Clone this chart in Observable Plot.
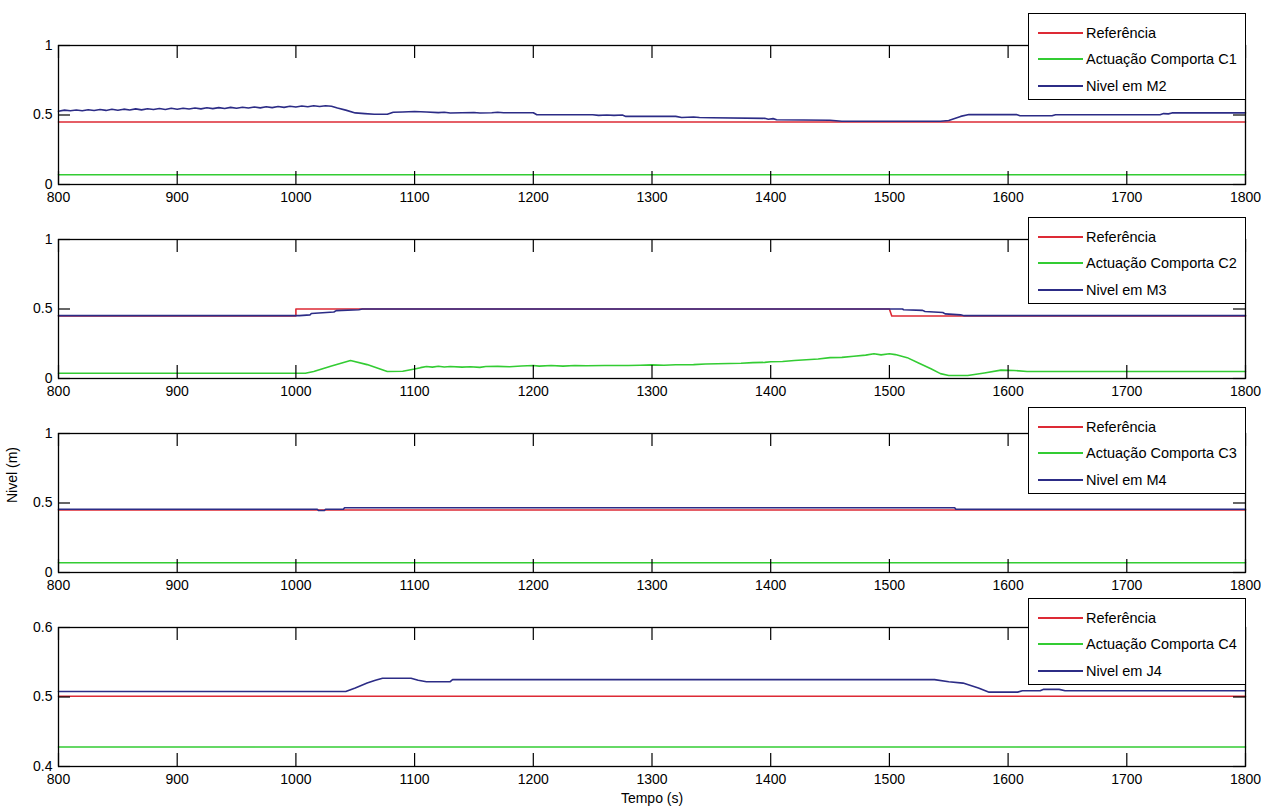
<!DOCTYPE html>
<html>
<head>
<meta charset="utf-8">
<script src="https://cdn.jsdelivr.net/npm/d3@7"></script>
<script src="https://cdn.jsdelivr.net/npm/@observablehq/plot@0.6"></script>
<style>
  body { margin: 0; background: #fff; width: 1261px; height: 812px; position: relative; overflow: hidden;
         font-family: "Liberation Sans", Arial, sans-serif; }
  .legend { position: absolute; left: 1028px; width: 216px; height: 85px; border: 1px solid #000; background: #fff;
            z-index: 5; font-size: 14.5px; color: #000; }
  .legend .row { position: absolute; left: 0; width: 216px; height: 20px; }
  .legend .sw { position: absolute; left: 9px; width: 45px; height: 2px; top: 9px; }
  .legend .tx { position: absolute; left: 57px; top: 0; line-height: 20px; white-space: nowrap; }
</style>
</head>
<body>
<script>
// ---------- shared axes ----------
const xTicks = [800, 900, 1000, 1100, 1200, 1300, 1400, 1500, 1600, 1700, 1800];
const yTicksLevel = [0, 0.5, 1];
const yTicksJ4 = [0.4, 0.5, 0.6];
const xLabel = "Tempo (s)";
const yLabel = "Nivel (m)";
const seriesColors = ["#dd2a35", "#33cc33", "#2c2c86"];

// ---------- panel 1 : C1 / M2 ----------
const legend1 = ["Referência", "Actuação Comporta C1", "Nivel em  M2"];
const ref1T = [800, 1800];
const ref1V = [0.45, 0.45];
const act1T = [800, 1800];
const act1V = [0.07, 0.07];
const niv1T = [800, 805, 810, 815, 820, 825, 830, 835, 840, 845, 850, 855, 860, 865, 870, 875, 880, 885, 890, 895,
               900, 905, 910, 915, 920, 925, 930, 935, 940, 945, 950, 955, 960, 965, 970, 975, 980, 985, 990, 995,
               1000, 1005, 1010, 1015, 1020, 1025, 1030, 1035, 1042, 1050, 1058, 1066, 1077, 1082, 1090, 1100,
               1110, 1120, 1125, 1130, 1140, 1150, 1155, 1165, 1170, 1175, 1200, 1203, 1250, 1255, 1262, 1268,
               1275, 1278, 1320, 1325, 1335, 1340, 1350, 1395, 1398, 1402, 1405, 1450, 1460, 1543, 1550, 1560,
               1567, 1607, 1610, 1637, 1640, 1728, 1731, 1735, 1738, 1800];
const niv1V = [0.527, 0.535, 0.530, 0.536, 0.531, 0.538, 0.532, 0.539, 0.533, 0.541, 0.534, 0.542, 0.536, 0.544, 0.537, 0.545, 0.539, 0.547, 0.540, 0.548,
               0.541, 0.549, 0.543, 0.550, 0.544, 0.552, 0.546, 0.553, 0.547, 0.555, 0.549, 0.556, 0.550, 0.558, 0.551, 0.559, 0.553, 0.561, 0.555, 0.563,
               0.557, 0.565, 0.559, 0.566, 0.561, 0.567, 0.563, 0.550, 0.535, 0.515, 0.510, 0.505, 0.505, 0.520, 0.522, 0.525,
               0.522, 0.517, 0.520, 0.514, 0.516, 0.518, 0.514, 0.516, 0.520, 0.516, 0.516, 0.502, 0.502, 0.497, 0.500, 0.497,
               0.500, 0.490, 0.490, 0.482, 0.486, 0.482, 0.480, 0.476, 0.470, 0.474, 0.466, 0.462, 0.455, 0.455, 0.460, 0.490,
               0.503, 0.503, 0.495, 0.495, 0.502, 0.502, 0.510, 0.508, 0.515, 0.515];

// ---------- panel 2 : C2 / M3 ----------
const legend2 = ["Referência", "Actuação Comporta C2", "Nivel em M3"];
const ref2T = [800, 1000, 1000, 1500, 1502, 1800];
const ref2V = [0.45, 0.45, 0.50, 0.50, 0.45, 0.45];
const act2T = [800, 1008, 1015, 1030, 1046, 1060, 1077, 1090, 1100, 1105, 1110, 1115, 1120, 1125, 1130, 1140, 1147, 1155,
               1160, 1170, 1180, 1190, 1200, 1205, 1215, 1225, 1235, 1245, 1260, 1280, 1290, 1300, 1310, 1320, 1335,
               1345, 1355, 1365, 1375, 1385, 1395, 1400, 1410, 1420, 1430, 1440, 1450, 1460, 1470, 1480, 1487, 1493,
               1500, 1505, 1515, 1525, 1535, 1543, 1550, 1566, 1580, 1594, 1605, 1616, 1800];
const act2V = [0.038, 0.038, 0.050, 0.090, 0.130, 0.100, 0.050, 0.052, 0.068, 0.078, 0.086, 0.082, 0.088, 0.083, 0.086, 0.082, 0.084, 0.080,
               0.086, 0.087, 0.084, 0.090, 0.093, 0.089, 0.093, 0.089, 0.094, 0.092, 0.093, 0.093, 0.095, 0.098, 0.095, 0.099, 0.100,
               0.104, 0.106, 0.108, 0.110, 0.114, 0.116, 0.120, 0.122, 0.130, 0.135, 0.140, 0.150, 0.152, 0.160, 0.168, 0.178, 0.170,
               0.178, 0.172, 0.150, 0.110, 0.070, 0.035, 0.022, 0.022, 0.040, 0.060, 0.058, 0.050, 0.050];
const niv2T = [800, 1003, 1012, 1013, 1032, 1034, 1053, 1056, 1511, 1512, 1528, 1530, 1545, 1547, 1560, 1563, 1800];
const niv2V = [0.452, 0.452, 0.458, 0.468, 0.478, 0.488, 0.495, 0.500, 0.500, 0.495, 0.490, 0.482, 0.475, 0.465, 0.458, 0.452, 0.452];

// ---------- panel 3 : C3 / M4 ----------
const legend3 = ["Referência", "Actuação Comporta C3", "Nivel em M4"];
const ref3T = [800, 1800];
const ref3V = [0.45, 0.45];
const act3T = [800, 1800];
const act3V = [0.07, 0.07];
const niv3T = [800, 1018, 1019, 1024, 1025, 1040, 1041, 1555, 1556, 1800];
const niv3V = [0.455, 0.455, 0.446, 0.446, 0.455, 0.455, 0.466, 0.466, 0.455, 0.455];

// ---------- panel 4 : C4 / J4 ----------
const legend4 = ["Referência", "Actuação Comporta C4", "Nivel em J4"];
const ref4T = [800, 1800];
const ref4V = [0.501, 0.501];
const act4T = [800, 1800];
const act4V = [0.428, 0.428];
const niv4T = [800, 1042, 1050, 1060, 1067, 1073, 1097, 1103, 1110, 1130, 1132, 1538, 1550, 1562, 1575, 1584, 1608,
               1612, 1627, 1630, 1643, 1648, 1800];
const niv4V = [0.508, 0.508, 0.513, 0.520, 0.524, 0.527, 0.527, 0.524, 0.522, 0.522, 0.525, 0.525, 0.522, 0.520, 0.513, 0.507, 0.507,
               0.509, 0.509, 0.511, 0.511, 0.509, 0.509];

// ---------- layout ----------
const FONT = '"Liberation Sans", Arial, sans-serif';
const W = 1261, ML = 58, MR = 16, PH = 139, MT = 10, MB = 45;
const PW = W - ML - MR;
const XT = 13, YT = 12;

function pairs(ts, vs) { return ts.map((t, i) => ({t, v: vs[i]})); }

function panel(cfg) {
  const {top, yDomain, yTicks, ref, act, niv, legend, legendTop, showY, showX} = cfg;
  const extraB = showX ? 5 : 0;
  const marks = [
    Plot.line(ref, {x: "t", y: "v", stroke: seriesColors[0], strokeWidth: 1.6}),
    Plot.line(act, {x: "t", y: "v", stroke: seriesColors[1], strokeWidth: 1.6}),
    Plot.line(niv, {x: "t", y: "v", stroke: seriesColors[2], strokeWidth: 1.6}),
    Plot.frame({stroke: "#000", strokeWidth: 1.3}),
    Plot.ruleX(xTicks, {insetTop: PH - XT, stroke: "#000", strokeWidth: 1.2}),
    Plot.ruleX(xTicks, {insetBottom: PH - XT, stroke: "#000", strokeWidth: 1.2}),
    Plot.ruleY(yTicks, {insetRight: PW - YT, stroke: "#000", strokeWidth: 1.2}),
    Plot.ruleY(yTicks, {insetLeft: PW - YT, stroke: "#000", strokeWidth: 1.2}),
    Plot.axisX({ticks: xTicks, tickSize: 0, tickPadding: 8, tickFormat: d => String(d), label: null, fontSize: 14}),
    Plot.axisY({ticks: yTicks, tickSize: 0, tickPadding: 6, tickFormat: d => String(d), label: null, fontSize: 14})
  ];
  if (showY) marks.push(Plot.text([yLabel], {frameAnchor: "left", dx: -46, rotate: -90, fontSize: 14, fill: "#000"}));
  if (showX) marks.push(Plot.text([xLabel], {frameAnchor: "bottom", dy: 36, fontSize: 14, fill: "#000"}));
  const chart = Plot.plot({
    width: W, height: MT + PH + MB + extraB,
    marginLeft: ML, marginRight: MR, marginTop: MT, marginBottom: MB + extraB,
    x: {domain: [800, 1800]},
    y: {domain: yDomain},
    style: {background: "transparent", fontFamily: FONT, fontSize: "14px", color: "#000", overflow: "visible"},
    marks
  });
  chart.style.position = "absolute";
  chart.style.top = (top - MT) + "px";
  chart.style.left = "0px";
  document.body.appendChild(chart);

  const lg = document.createElement("div");
  lg.className = "legend";
  lg.style.top = legendTop + "px";
  const rowsY = [19, 45, 72];
  legend.forEach((name, i) => {
    const row = document.createElement("div");
    row.className = "row";
    row.style.top = (rowsY[i] - 10) + "px";
    const sw = document.createElement("div");
    sw.className = "sw";
    sw.style.background = seriesColors[i];
    const tx = document.createElement("div");
    tx.className = "tx";
    tx.textContent = name;
    row.appendChild(sw); row.appendChild(tx);
    lg.appendChild(row);
  });
  document.body.appendChild(lg);
}

panel({top: 45, yDomain: [0, 1], yTicks: yTicksLevel, ref: pairs(ref1T, ref1V), act: pairs(act1T, act1V), niv: pairs(niv1T, niv1V), legend: legend1, legendTop: 13});
panel({top: 239, yDomain: [0, 1], yTicks: yTicksLevel, ref: pairs(ref2T, ref2V), act: pairs(act2T, act2V), niv: pairs(niv2T, niv2V), legend: legend2, legendTop: 217});
panel({top: 433, yDomain: [0, 1], yTicks: yTicksLevel, ref: pairs(ref3T, ref3V), act: pairs(act3T, act3V), niv: pairs(niv3T, niv3V), legend: legend3, legendTop: 407, showY: true});
panel({top: 627, yDomain: [0.4, 0.6], yTicks: yTicksJ4, ref: pairs(ref4T, ref4V), act: pairs(act4T, act4V), niv: pairs(niv4T, niv4V), legend: legend4, legendTop: 598, showX: true});
</script>
</body>
</html>
